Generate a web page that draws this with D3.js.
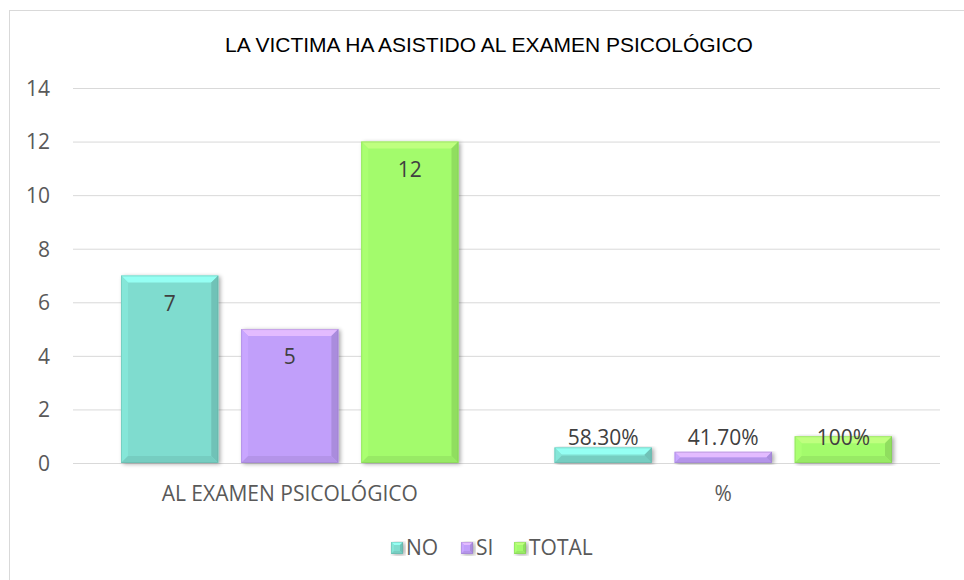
<!DOCTYPE html>
<html>
<head>
<meta charset="utf-8">
<script src="https://cdn.jsdelivr.net/npm/d3@7"></script>
<style>
  body { margin: 0; background: #fff; }
  svg { display: block; }
</style>
</head>
<body>
<div id="chart"></div>
<script>
// --- Data ---
const categories = ['AL EXAMEN PSICOLÓGICO', '%'];
const seriesNames = ['NO', 'SI', 'TOTAL'];
const valuesNo = [7, 0.583];
const valuesSi = [5, 0.417];
const valuesTotal = [12, 1];
const labelsNo = ['7', '58.30%'];
const labelsSi = ['5', '41.70%'];
const labelsTotal = ['12', '100%'];
const yTicks = [0, 2, 4, 6, 8, 10, 12, 14];

const seriesColors = ['#7fdccf', '#c19ffa', '#a3fb6c'];

// --- Layout ---
const width = 964, height = 580;
const plot = { left: 73, right: 940, top: 88, bottom: 463 };
const FONT = '"Open Sans", "Noto Sans", sans-serif';
const FONT_SIZE = 21;

const svg = d3.select('#chart').append('svg')
    .attr('width', width)
    .attr('height', height);

const defs = svg.append('defs');
defs.append('filter')
    .attr('id', 'shadow')
    .attr('x', '-20%').attr('y', '-10%')
    .attr('width', '140%').attr('height', '120%')
    .html('<feGaussianBlur in="SourceAlpha" stdDeviation="2"/>' +
          '<feOffset dx="2" dy="1" result="b"/>' +
          '<feComponentTransfer><feFuncA type="linear" slope="0.35"/></feComponentTransfer>' +
          '<feMerge><feMergeNode/><feMergeNode in="SourceGraphic"/></feMerge>');

// chart frame
svg.append('rect')
    .attr('x', 9.5).attr('y', 10.5)
    .attr('width', 960).attr('height', 580)
    .attr('fill', '#fff')
    .attr('stroke', '#d9d9d9');

// title
svg.append('text')
    .attr('x', 489)
    .attr('y', 52)
    .attr('text-anchor', 'middle')
    .attr('font-family', '"Liberation Sans", Arial, sans-serif')
    .attr('font-size', 21)
    .attr('fill', '#000')
    .text('LA VICTIMA HA ASISTIDO AL EXAMEN PSICOLÓGICO');

// --- Scales ---
const y = d3.scaleLinear().domain([0, 14]).range([plot.bottom, plot.top]);
const x0 = d3.scaleBand().domain(categories).range([plot.left, plot.right]).paddingInner(0).paddingOuter(0);
const x1 = d3.scaleBand().domain(seriesNames).range([48, x0.bandwidth() - 48]).paddingInner(0.19).paddingOuter(0);

// gridlines
svg.append('g')
    .selectAll('line')
    .data(yTicks)
    .join('line')
    .attr('x1', plot.left).attr('x2', plot.right)
    .attr('y1', d => y(d) + 0.5).attr('y2', d => y(d) + 0.5)
    .attr('stroke', '#d9d9d9')
    .attr('stroke-width', 1);

// y axis labels
const yAxis = d3.axisLeft(y).tickValues(yTicks).tickSize(0).tickPadding(0);
const yg = svg.append('g')
    .attr('transform', `translate(${plot.left - 23},0)`)
    .call(yAxis);
yg.select('.domain').remove();
yg.selectAll('text')
    .attr('font-family', FONT)
    .attr('font-size', FONT_SIZE)
    .attr('fill', '#595959')
    .attr('dy', '0.35em');

// x axis labels
const xAxis = d3.axisBottom(x0).tickSize(0).tickPadding(0);
const xg = svg.append('g')
    .attr('transform', `translate(0,${plot.bottom + 31})`)
    .call(xAxis);
xg.select('.domain').remove();
xg.selectAll('text')
    .attr('font-family', FONT)
    .attr('font-size', FONT_SIZE)
    .attr('fill', '#595959')
    .attr('dy', '0.35em');

// --- Bars ---
const seriesValues = [valuesNo, valuesSi, valuesTotal];
const seriesLabels = [labelsNo, labelsSi, labelsTotal];
const bars = [];
seriesNames.forEach((name, s) => {
    categories.forEach((cat, c) => {
        bars.push({ name, cat, value: seriesValues[s][c], label: seriesLabels[s][c], color: seriesColors[s] });
    });
});

function drawBevelRect(g, x, yTop, w, h, color, bevel) {
    const b = Math.min(bevel, h / 2, w / 2);
    const x2 = x + w, y2 = yTop + h;
    const c = d3.color(color);
    g.append('rect')
        .attr('x', x).attr('y', yTop)
        .attr('width', w).attr('height', h)
        .attr('fill', color)
        .attr('filter', 'url(#shadow)');
    const poly = (pts, fill) => g.append('polygon')
        .attr('points', pts.map(p => p.join(',')).join(' '))
        .attr('fill', fill);
    poly([[x, yTop], [x2, yTop], [x2 - b, yTop + b], [x + b, yTop + b]], c.brighter(0.45));
    poly([[x, yTop], [x + b, yTop + b], [x + b, y2 - b], [x, y2]], c.brighter(0.12));
    poly([[x2, yTop], [x2, y2], [x2 - b, y2 - b], [x2 - b, yTop + b]], c.darker(0.35));
    poly([[x, y2], [x + b, y2 - b], [x2 - b, y2 - b], [x2, y2]], c.darker(0.2));
    g.append('rect')
        .attr('x', x + 0.5).attr('y', yTop + 0.5)
        .attr('width', Math.max(0, w - 1)).attr('height', Math.max(0, h - 1))
        .attr('fill', 'none')
        .attr('stroke', c.darker(0.8))
        .attr('stroke-opacity', 0.35);
}

const barGroup = svg.append('g');
bars.forEach(d => {
    const bx = x0(d.cat) + x1(d.name);
    const top = y(d.value);
    drawBevelRect(barGroup.append('g'), bx, top, x1.bandwidth(), plot.bottom - top, d.color, 7);
});

// data labels (inside end, clamped near the baseline for small bars)
svg.append('g')
    .selectAll('text')
    .data(bars)
    .join('text')
    .attr('x', d => x0(d.cat) + x1(d.name) + x1.bandwidth() / 2)
    .attr('y', d => Math.min(y(d.value) + 28, plot.bottom - 25))
    .attr('dy', '0.35em')
    .attr('text-anchor', 'middle')
    .attr('font-family', FONT)
    .attr('font-size', FONT_SIZE)
    .attr('fill', '#404040')
    .text(d => d.label);

// --- Legend ---
const legendItems = seriesNames.map((name, i) => ({ name, color: seriesColors[i] }));
const legend = svg.append('g').attr('transform', 'translate(0,548)');
const legendX = [391, 461, 514];
legendItems.forEach((d, i) => {
    const g = legend.append('g').attr('transform', `translate(${legendX[i]},0)`);
    drawBevelRect(g, 0, -6, 12, 12, d.color, 3);
    g.append('text')
        .attr('x', 15)
        .attr('y', 0)
        .attr('dy', '0.35em')
        .attr('font-family', FONT)
        .attr('font-size', FONT_SIZE)
        .attr('fill', '#595959')
        .text(d.name);
});
</script>
</body>
</html>
